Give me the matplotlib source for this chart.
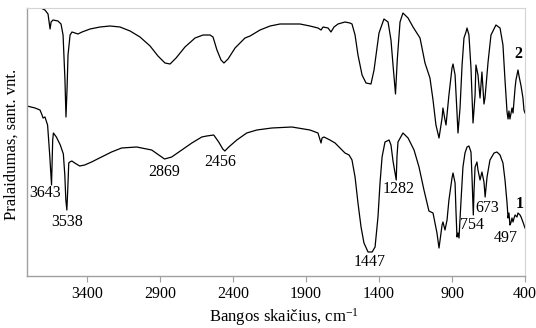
import matplotlib
matplotlib.use("Agg")
import matplotlib.pyplot as plt

# Spectrum 2 (upper) : wavenumber (cm-1) and transmittance (arb. units)
wn2 = [3735, 3715, 3688, 3667, 3653, 3646, 3633, 3599, 3578, 3564, 3551, 3544, 3537, 3530,
       3516, 3503, 3482, 3462, 3434, 3379, 3311, 3242, 3174, 3105, 3037, 2968, 2914, 2866,
       2831, 2790, 2729, 2660, 2605, 2557, 2537, 2510, 2482, 2462, 2434, 2386, 2318, 2283,
       2215, 2146, 2078, 1941, 1873, 1818, 1797, 1783, 1749, 1729, 1708, 1681, 1633, 1599,
       1585, 1564, 1544, 1516, 1489, 1455, 1434, 1400, 1366, 1338, 1318, 1304, 1287, 1275,
       1256, 1236, 1201, 1167, 1119, 1085, 1051, 1030, 1010, 989, 968, 962, 948, 941, 921,
       900, 893, 879, 866, 859, 845, 831, 818, 804, 797, 784, 770, 756, 742, 736, 722, 708,
       695, 681, 674, 653, 633, 599, 571, 551, 537, 523, 516, 510, 503, 489, 482, 468, 462,
       448, 441, 427, 414, 407, 400]
t2 = [276, 268, 266, 262, 247, 254, 256, 255, 252, 241, 196, 159, 186, 221,
      241, 244, 243, 242, 244, 247, 249, 250, 249, 245, 239, 230, 220, 213,
      212, 218, 229, 238, 241, 241, 239, 226, 216, 213, 217, 228, 238, 240,
      246, 250, 252, 252, 250, 248, 246, 249, 248, 244, 249, 252, 254, 253,
      252, 241, 221, 201, 193, 192, 206, 243, 257, 254, 236, 211, 182, 216,
      254, 263, 258, 249, 238, 213, 198, 176, 151, 138, 158, 168, 156, 151, 181,
      208, 212, 201, 164, 143, 168, 211, 238, 244, 248, 241, 208, 153, 181, 211, 201, 178,
      204, 172, 178, 214, 241, 251, 248, 231, 196, 164, 157, 165, 157, 168, 163, 188, 196,
      206, 200, 190, 178, 166, 163]

# Spectrum 1 (lower)
wn1 = [3811, 3756, 3722, 3708, 3701, 3688, 3670, 3655, 3643, 3635, 3630, 3610, 3583, 3562,
       3552, 3545, 3538, 3532, 3525, 3518, 3504, 3484, 3450, 3416, 3369, 3300, 3232, 3163,
       3060, 2957, 2888, 2869, 2820, 2751, 2682, 2614, 2580, 2532, 2498, 2470, 2456, 2429,
       2374, 2306, 2237, 2134, 1997, 1873, 1818, 1797, 1790, 1777, 1736, 1701, 1667, 1633,
       1605, 1585, 1564, 1544, 1523, 1503, 1475, 1447, 1427, 1407, 1393, 1379, 1359, 1331,
       1318, 1304, 1282, 1277, 1270, 1236, 1201, 1160, 1126, 1092, 1058, 1030, 1003, 989,
       968, 962, 948, 934, 921, 900, 893, 879, 873, 866, 859, 852, 838, 825, 811, 797, 784,
       770, 763, 754, 749, 742, 729, 722, 708, 695, 681, 673, 660, 640, 612, 592, 571, 551,
       537, 523, 516, 510, 503, 497, 489, 482, 475, 468, 455, 448, 434, 427, 414, 400]
t1 = [170, 168, 166, 161, 158, 159, 151, 120, 91, 136, 143, 139, 131, 122,
      101, 76, 66, 86, 113, 114, 115, 113, 110, 111, 114, 119, 124, 128,
      129, 126, 119, 117, 119, 126, 133, 139, 140, 141, 134, 127, 125, 129,
      136, 143, 146, 148, 149, 146, 143, 133, 138, 139, 136, 133, 128, 123,
      121, 116, 99, 73, 49, 33, 24, 24, 29, 59, 93, 119, 134, 136,
      131, 115, 96, 119, 134, 143, 138, 126, 109, 86, 65, 63, 43, 28,
      51, 54, 46, 56, 76, 98, 103, 93, 66, 39, 43, 38, 76, 109, 123, 129, 130,
      124, 99, 61, 86, 109, 114, 106, 96, 104, 94, 79, 99, 116, 123, 124, 121, 113,
      96, 73, 58, 63, 51, 53, 58, 54, 58, 61, 59, 63, 61, 59, 54, 48]

# Peak labels for spectrum 1: text, label x (cm-1), label y (arb.)
peak_text = ["3643", "3538", "2869", "2456", "1447", "1282", "754", "673", "497"]
peak_x = [3690, 3539, 2873, 2486, 1461, 1263, 760, 657, 530]
peak_y = [83, 54, 103.5, 114, 13.5, 87, 51, 68, 38]

xticks = [3400, 2900, 2400, 1900, 1400, 900, 400]

font = "Liberation Serif"
plt.rcParams["font.family"] = [font, "DejaVu Serif"]
plt.rcParams["mathtext.fontset"] = "custom"
plt.rcParams["mathtext.rm"] = font
plt.rcParams["mathtext.it"] = font + ":italic"
plt.rcParams["mathtext.default"] = "rm"

fig = plt.figure(figsize=(5.36, 3.28), dpi=100)
ax = fig.add_axes([27 / 536, 1 - 276 / 328, (525 - 27) / 536, (276 - 8) / 328])

ax.plot(wn2, t2, color="black", lw=0.9, solid_joinstyle="round")
ax.plot(wn1, t1, color="black", lw=0.9, solid_joinstyle="round")

ax.set_xlim(3811, 400)
ax.set_ylim(0, 268)
ax.set_xticks(xticks)
ax.set_xticklabels([str(v) for v in xticks])
ax.set_yticks([])
ax.tick_params(axis="x", direction="out", length=4, width=0.8, color="#a0a0a0",
               labelsize=11.5, pad=3)

for side in ["left", "bottom"]:
    ax.spines[side].set_color("#a0a0a0")
    ax.spines[side].set_linewidth(1.0)
for side in ["top", "right"]:
    ax.spines[side].set_color("#d4d4d4")
    ax.spines[side].set_linewidth(0.8)

for txt, xx, yy in zip(peak_text, peak_x, peak_y):
    ax.text(xx, yy, txt, ha="center", va="center", fontsize=11.5)

ax.text(438, 72.5, "1", ha="center", va="center", fontsize=11.5, fontweight="bold")
ax.text(448, 222.5, "2", ha="center", va="center", fontsize=11.5, fontweight="bold")

fig.text(12 / 536, 1 - 144 / 328, "Pralaidumas, sant. vnt.", rotation=90,
         ha="center", va="center", fontsize=12)
fig.text(284 / 536, 1 - 317 / 328, "Bangos skaičius, cm$^{\\mathrm{-1}}$",
         ha="center", va="center", fontsize=12)

fig.savefig("out.png", dpi=100)
